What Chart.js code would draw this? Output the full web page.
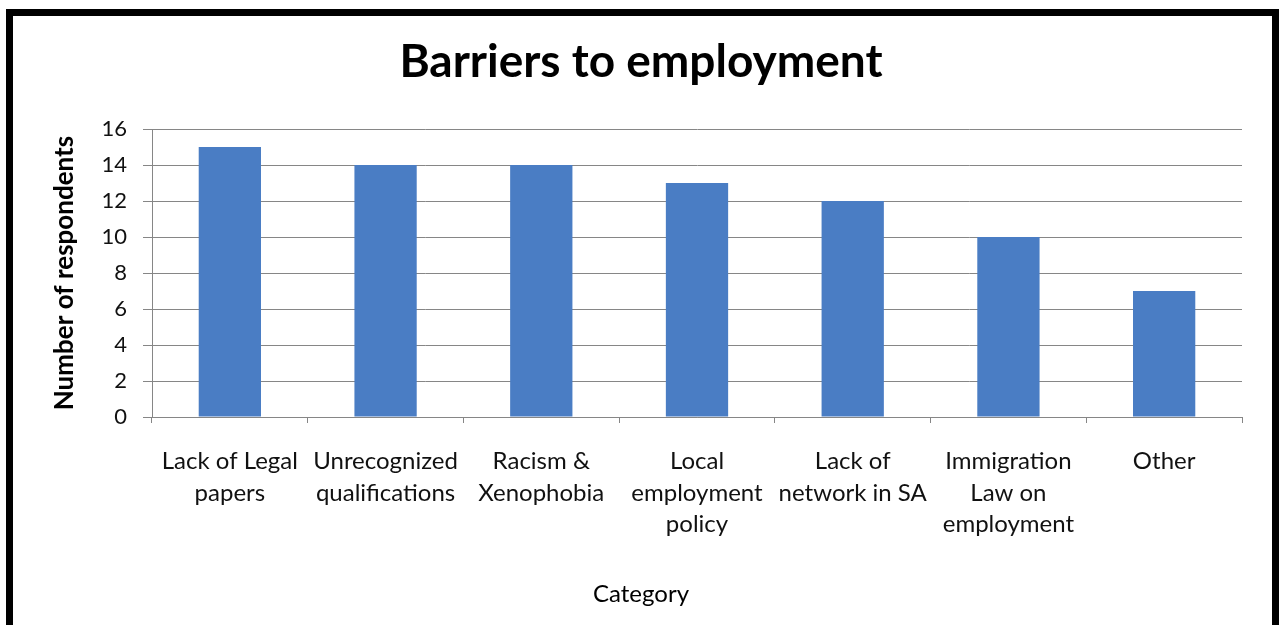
<!DOCTYPE html>
<html>
<head>
<meta charset="utf-8">
<title>Barriers to employment</title>
<script src="https://cdn.jsdelivr.net/npm/chart.js@4.4.1/dist/chart.umd.min.js"></script>
<style>
  html, body { margin: 0; padding: 0; background: #ffffff; overflow: hidden; }
  #wrap { position: relative; width: 1282px; height: 625px; }
  #chart { position: absolute; left: 0; top: 0; }
  /* heavy black frame around the chart */
  #frame {
    position: absolute; left: 6px; top: 9px; width: 1273px; height: 700px;
    box-sizing: border-box; border: 7px solid #000; pointer-events: none;
  }
</style>
</head>
<body>
<div id="wrap">
  <canvas id="chart" width="1282" height="625"></canvas>
  <div id="frame"></div>
</div>
<script>
const categories = [
  ["Lack of Legal", "papers"],
  ["Unrecognized", "qualifications"],
  ["Racism &", "Xenophobia"],
  ["Local", "employment", "policy"],
  ["Lack of", "network in SA"],
  ["Immigration", "Law on", "employment"],
  ["Other"]
];
const respondents = [15, 14, 14, 13, 12, 10, 7];
const yTicks = { min: 0, max: 16, step: 2 };

const FONT = "Lato, 'Open Sans', sans-serif";
const GRID = "#868686";

const ctx = document.getElementById("chart").getContext("2d");

new Chart(ctx, {
  type: "bar",
  data: {
    labels: categories,
    datasets: [{
      label: "Number of respondents",
      data: respondents,
      backgroundColor: "#4A7DC4",
      borderWidth: 0,
      categoryPercentage: 1,
      barPercentage: 0.4
    }]
  },
  options: {
    responsive: false,
    animation: false,
    layout: { padding: 0 },
    plugins: {
      legend: { display: false },
      tooltip: { enabled: false },
      title: {
        display: true,
        text: "Barriers to employment",
        color: "#000",
        font: { family: FONT, size: 46, weight: "bold", lineHeight: 1.2 },
        padding: { top: 35, bottom: 38.8 }
      },
      subtitle: {
        display: true,
        position: "bottom",
        text: "Category",
        color: "#000",
        font: { family: FONT, size: 24, lineHeight: 1.2 },
        padding: { top: 0, bottom: 16.6 }
      }
    },
    scales: {
      x: {
        grid: {
          offset: true,
          drawOnChartArea: false,
          drawTicks: true,
          tickLength: 6,
          color: GRID
        },
        border: { display: true, color: GRID },
        ticks: {
          color: "#111",
          autoSkip: false,
          maxRotation: 0,
          padding: 23,
          font: { family: FONT, size: 24, lineHeight: 1.31 }
        },
        afterFit(scale) { scale.height = 162.6; }
      },
      y: {
        min: yTicks.min,
        max: yTicks.max,
        ticks: {
          stepSize: yTicks.step,
          color: "#111",
          padding: 16,
          font: { family: FONT, size: 22 }
        },
        grid: { color: GRID, tickLength: 9 },
        border: { display: true, color: GRID },
        title: {
          display: true,
          text: "Number of respondents",
          color: "#000",
          font: { family: FONT, size: 26, weight: "bold", lineHeight: 1.2 },
          padding: { top: 49, bottom: 0 }
        },
        afterFit(scale) { scale.width = 152; }
      },
      // empty right-hand axis that only reserves the margin beside the plot
      spacer: {
        type: "linear",
        position: "right",
        display: true,
        grid: { display: false },
        border: { display: false },
        ticks: { display: false },
        afterFit(scale) { scale.width = 40; }
      }
    }
  }
});
</script>
</body>
</html>
